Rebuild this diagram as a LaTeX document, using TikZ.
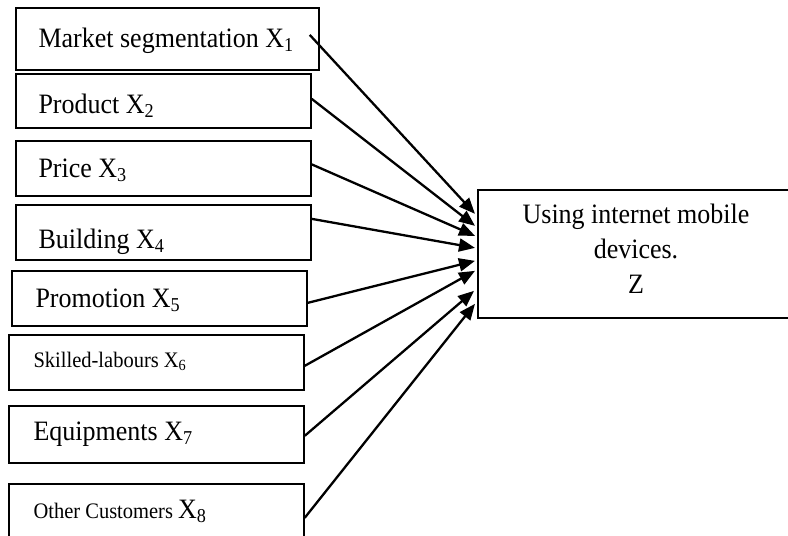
\documentclass[tikz,border=0pt]{standalone}
\usepackage{fontspec}
\setmainfont{Liberation Serif}
\usetikzlibrary{arrows.meta}
% slightly tall lettering, as set in the original layout
\newcommand{\tall}[1]{\scalebox{1}[1.08]{#1}}
\begin{document}
\begin{tikzpicture}[x=1pt,y=-1pt,
  box/.style={draw, line width=1.7pt, rectangle, inner sep=0pt, anchor=north west,
    minimum height=#1, align=left},
  big/.style={font=\fontsize{26}{30}\selectfont},
  small/.style={font=\fontsize{20.5}{24}\selectfont},
  arr/.style={line width=2.3pt, -{Triangle[length=16pt,width=13pt]}}]
\useasboundingbox (0,0) rectangle (788,536);
% factor boxes (text placed at a fixed inset from the left edge)
\node[box=62, minimum width=303] (b1) at (15,7) {};
\node[big, anchor=base west] (l1) at (35,47) {\tall{Market segmentation X\textsubscript{1}}};
\node[box=54, minimum width=295] (b2) at (15,73) {};
\node[big, anchor=base west] (l2) at (35,113) {\tall{Product X\textsubscript{2}}};
\node[box=55, minimum width=295] (b3) at (15,140) {};
\node[big, anchor=base west] (l3) at (35,177) {\tall{Price X\textsubscript{3}}};
\node[box=55, minimum width=295] (b4) at (15,204) {};
\node[big, anchor=base west] (l4) at (35,248) {\tall{Building X\textsubscript{4}}};
\node[box=55, minimum width=295] (b5) at (11,270) {};
\node[big, anchor=base west] (l5) at (32,307) {\tall{Promotion X\textsubscript{5}}};
\node[box=55, minimum width=295] (b6) at (8,334) {};
\node[small, anchor=base west] (l6) at (30,367) {\tall{Skilled-labours X\textsubscript{6}}};
\node[box=57, minimum width=295] (b7) at (8,405) {};
\node[big, anchor=base west] (l7) at (30,440) {\tall{Equipments X\textsubscript{7}}};
\node[box=62, minimum width=295] (b8) at (8,483) {};
\node[small, anchor=base west] (l8) at (30,518) {\tall{Other Customers {\fontsize{26}{30}\selectfont X\textsubscript{8}}}};
% outcome box
\node[draw, line width=1.7pt, minimum width=323, minimum height=128, inner sep=0pt,
  anchor=north west] (z) at (477,189) {};
\node[font=\fontsize{26}{35}\selectfont, align=center, anchor=base] (lz) at (636,293)
  {\tall{Using internet mobile}\\\tall{devices.}\\\tall{Z}};
% arrows into the outcome
\draw[arr] ([xshift=-10pt,yshift=4pt]b1.east) -- ([xshift=-2pt,yshift=40pt]z.west);
\draw[arr] ([yshift=2pt]b2.east) -- ([xshift=-2pt,yshift=28pt]z.west);
\draw[arr] ([yshift=4pt]b3.east) -- ([xshift=-2pt,yshift=18pt]z.west);
\draw[arr] ([yshift=13.5pt]b4.east) -- ([xshift=-2pt,yshift=6pt]z.west);
\draw[arr] ([yshift=-4.5pt]b5.east) -- ([xshift=-2pt,yshift=-7pt]z.west);
\draw[arr] ([yshift=-3.5pt]b6.east) -- ([xshift=-2pt,yshift=-17pt]z.west);
\draw[arr] ([yshift=-1.5pt]b7.east) -- ([xshift=-3pt,yshift=-37pt]z.west);
\draw[arr] ([yshift=-3pt]b8.east) -- ([xshift=-2pt,yshift=-50pt]z.west);
\end{tikzpicture}
\end{document}
